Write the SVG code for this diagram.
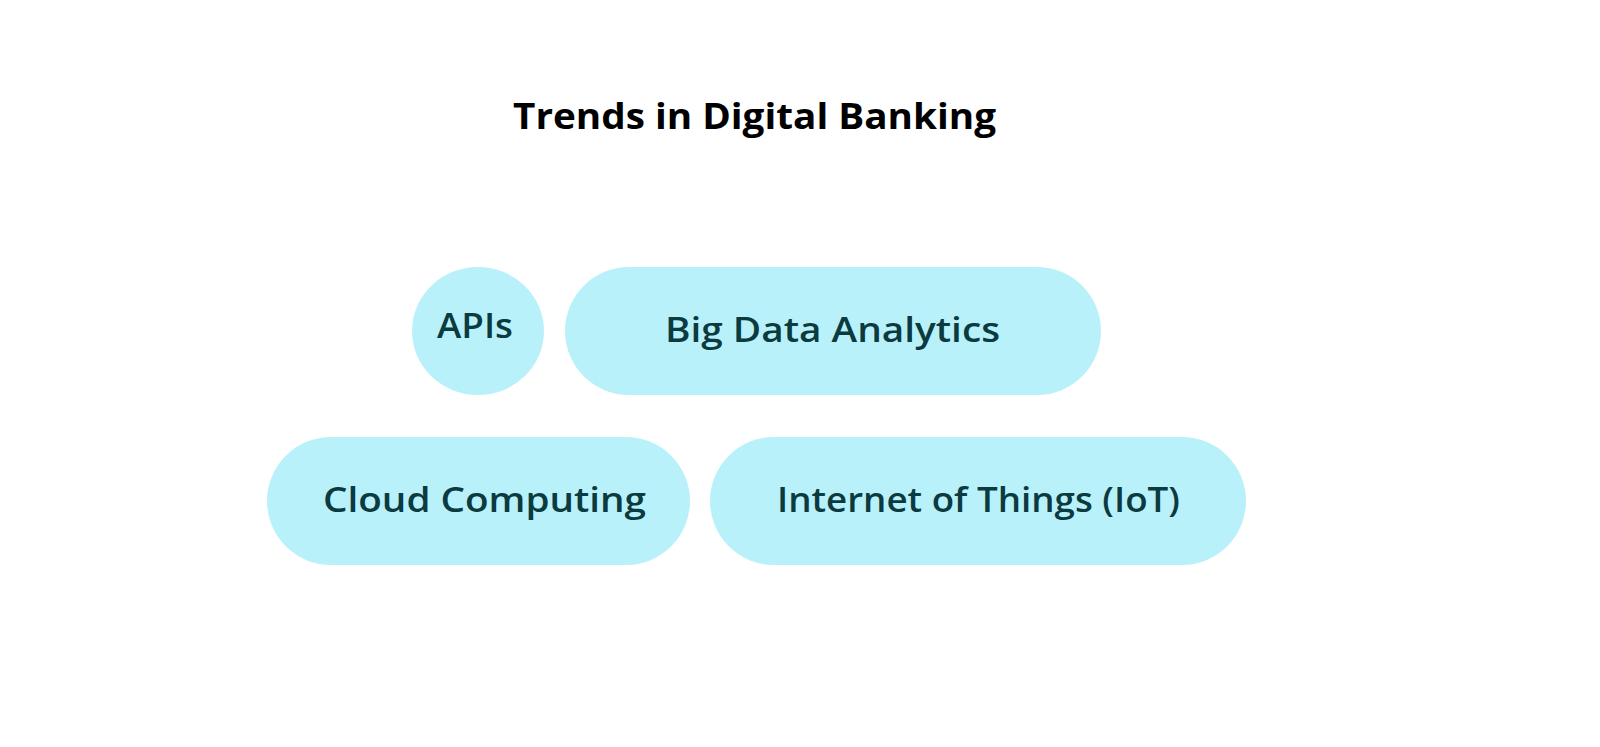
<svg xmlns="http://www.w3.org/2000/svg" width="1600" height="747" viewBox="0 0 1600 747">
<style>
.node{fill:#b9f1fb;}
.lbl{font-family:"Open Sans","Liberation Sans",sans-serif;font-size:34px;fill:#0b3a3f;font-weight:600;}
.title{font-family:"Open Sans","Liberation Sans",sans-serif;font-size:35px;font-weight:700;fill:#000;}
</style>
<rect width="1600" height="747" fill="#ffffff"/>
<text class="title" x="513" y="129" textLength="483" lengthAdjust="spacingAndGlyphs">Trends in Digital Banking</text>
<g id="apis">
<ellipse class="node" cx="478" cy="331" rx="66" ry="64"/>
<text class="lbl" x="437" y="338" textLength="76" lengthAdjust="spacingAndGlyphs">APIs</text>
</g>
<g id="big-data">
<rect class="node" x="565" y="267" width="536" height="128" rx="64" ry="64"/>
<text class="lbl" x="665" y="342" textLength="335" lengthAdjust="spacingAndGlyphs">Big Data Analytics</text>
</g>
<g id="cloud">
<rect class="node" x="267" y="437" width="423" height="128" rx="64" ry="64"/>
<text class="lbl" x="323" y="512" textLength="323" lengthAdjust="spacingAndGlyphs">Cloud Computing</text>
</g>
<g id="iot">
<rect class="node" x="710" y="437" width="536" height="128" rx="64" ry="64"/>
<text class="lbl" x="777" y="512" textLength="403" lengthAdjust="spacingAndGlyphs">Internet of Things (IoT)</text>
</g>
<g id="connectors"></g>
</svg>
